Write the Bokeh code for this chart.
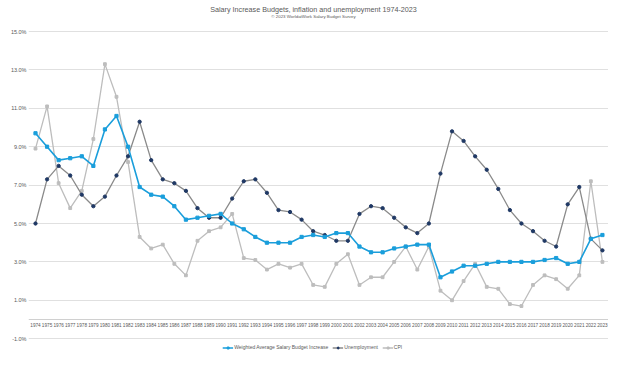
from bokeh.plotting import figure
from bokeh.models import (Range1d, FixedTicker, PrintfTickFormatter, Span, Label,
                          Legend, LegendItem, ColumnDataSource)
from bokeh.embed import file_html
from bokeh.resources import INLINE
from bokeh.core.properties import value

# ---------------- data ----------------
years = list(range(1974, 2024))
year_labels = [str(y) for y in years]

salary = [9.7, 9.0, 8.3, 8.4, 8.5, 8.0, 9.9, 10.6, 9.0, 6.9,
          6.5, 6.4, 5.9, 5.2, 5.3, 5.4, 5.5, 5.0, 4.7, 4.3,
          4.0, 4.0, 4.0, 4.3, 4.4, 4.3, 4.5, 4.5, 3.8, 3.5,
          3.5, 3.7, 3.8, 3.9, 3.9, 2.2, 2.5, 2.8, 2.8, 2.9,
          3.0, 3.0, 3.0, 3.0, 3.1, 3.2, 2.9, 3.0, 4.2, 4.4]

unemployment = [5.0, 7.3, 8.0, 7.5, 6.5, 5.9, 6.4, 7.5, 8.5, 10.3,
                8.3, 7.3, 7.1, 6.7, 5.8, 5.3, 5.3, 6.3, 7.2, 7.3,
                6.6, 5.7, 5.6, 5.2, 4.6, 4.4, 4.1, 4.1, 5.5, 5.9,
                5.8, 5.3, 4.8, 4.5, 5.0, 7.6, 9.8, 9.3, 8.5, 7.8,
                6.8, 5.7, 5.0, 4.6, 4.1, 3.8, 6.0, 6.9, 4.2, 3.6]

cpi = [8.9, 11.1, 7.1, 5.8, 6.7, 9.4, 13.3, 11.6, 8.2, 4.3,
       3.7, 3.9, 2.9, 2.3, 4.1, 4.6, 4.8, 5.5, 3.2, 3.1,
       2.6, 2.9, 2.7, 2.9, 1.8, 1.7, 2.9, 3.4, 1.8, 2.2,
       2.2, 3.0, 3.8, 2.6, 3.8, 1.5, 1.0, 2.0, 2.9, 1.7,
       1.6, 0.8, 0.7, 1.8, 2.3, 2.1, 1.6, 2.3, 7.2, 3.0]

y_ticks = [-1, 1, 3, 5, 7, 9, 11, 13, 15]

series_names = ["Weighted Average Salary Budget Increase", "Unemployment", "CPI"]
title_text = "Salary Increase Budgets, inflation and unemployment 1974-2023"
subtitle_text = "\u00a9 2023 WorldatWork Salary Budget Survey"

# ---------------- styling ----------------
BLUE = "#1a9edb"
UNEMP_LINE = "#8a8a8a"
UNEMP_MARK = "#1f3864"
CPI_COL = "#bdbdbd"
TEXT = "#595959"
FONT = "Liberation Sans"

W, H = 608, 353
LEFT = 28
SPACING = 11.57
PXU = 19.2          # pixels per percentage point
ZERO_Y = 319.0      # screen y of the 0% line

x0 = 1974 - (35 - LEFT) / SPACING
x1 = x0 + (W - LEFT) / SPACING
y1 = ZERO_Y / PXU
y0 = y1 - H / PXU

p = figure(width=W, height=H, output_backend="svg", toolbar_location=None,
           x_range=Range1d(x0, x1), y_range=Range1d(y0, y1),
           x_axis_location=None,
           min_border_left=LEFT, min_border_right=0, min_border_top=0, min_border_bottom=0)
p.outline_line_color = None
p.background_fill_color = "white"
p.border_fill_color = "white"

# y axis
p.yaxis.ticker = FixedTicker(ticks=y_ticks)
p.yaxis.formatter = PrintfTickFormatter(format="%.1f%%")
p.yaxis.axis_line_color = None
p.yaxis.major_tick_line_color = None
p.yaxis.minor_tick_line_color = None
p.yaxis.major_tick_out = 0
p.yaxis.major_tick_in = 0
p.yaxis.minor_tick_out = 0
p.yaxis.major_label_text_font_size = "5.5px"
p.yaxis.major_label_text_color = TEXT
p.yaxis.major_label_text_font = FONT
p.yaxis.major_label_standoff = 2

p.xgrid.visible = False
p.ygrid.grid_line_color = "#e0e0e0"
p.ygrid.grid_line_width = 1

# zero (category axis) line
p.add_layout(Span(location=0, dimension="width", line_color="#d0d0d0", line_width=1))

# category labels along the zero line
src_lab = ColumnDataSource(dict(x=years, t=year_labels))
p.text(x="x", y=0, text="t", source=src_lab, text_align="center", text_baseline="top",
       y_offset=3.5, text_font_size="4.7px", text_color=TEXT, text_font=value(FONT))

src = ColumnDataSource(dict(x=years, s=salary, u=unemployment, c=cpi))

l_c = p.line("x", "c", source=src, line_color=CPI_COL, line_width=1.3)
m_c = p.scatter("x", "c", source=src, marker="square", size=2.8,
                fill_color=CPI_COL, line_color=CPI_COL)
l_u = p.line("x", "u", source=src, line_color=UNEMP_LINE, line_width=1.3)
m_u = p.scatter("x", "u", source=src, marker="circle", size=3.3,
                fill_color=UNEMP_MARK, line_color=UNEMP_MARK)
l_s = p.line("x", "s", source=src, line_color=BLUE, line_width=1.6)
m_s = p.scatter("x", "s", source=src, marker="square", size=3.2,
                fill_color=BLUE, line_color=BLUE)

legend = Legend(items=[LegendItem(label=series_names[0], renderers=[l_s, m_s]),
                       LegendItem(label=series_names[1], renderers=[l_u, m_u]),
                       LegendItem(label=series_names[2], renderers=[l_c, m_c])],
                location="bottom_center", orientation="horizontal",
                label_text_font_size="5px", label_text_color=TEXT, label_text_font=FONT,
                glyph_width=11, glyph_height=5, label_standoff=1, spacing=4,
                padding=0, margin=3, background_fill_alpha=0, border_line_color=None,
                label_height=5)
p.add_layout(legend)

xmid = 1974 + (313 - 35) / SPACING
p.add_layout(Label(x=xmid, y=(ZERO_Y - 8.5) / PXU, text=title_text, text_align="center",
                   text_baseline="middle", text_font_size="7.2px", text_color=TEXT,
                   text_font=FONT))
p.add_layout(Label(x=xmid, y=(ZERO_Y - 15.8) / PXU, text=subtitle_text, text_align="center",
                   text_baseline="middle", text_font_size="4.4px", text_color=TEXT,
                   text_font=FONT))

open("out.html", "w").write(file_html(p, INLINE))
